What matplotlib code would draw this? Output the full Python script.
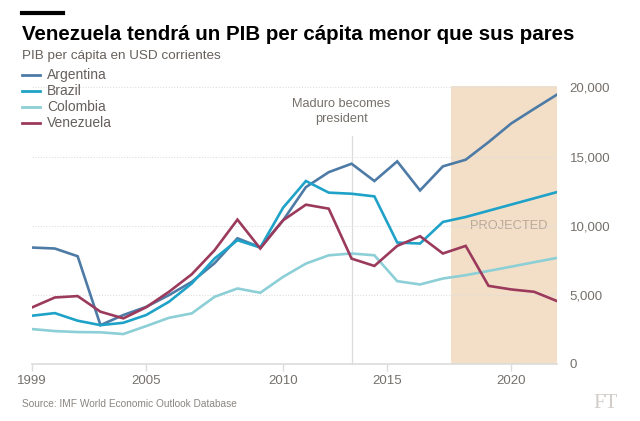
import matplotlib
matplotlib.use("Agg")
import matplotlib.pyplot as plt
import numpy as np

years = list(range(1999, 2023))
argentina = [8420, 8350, 7790, 2810, 3540, 4130, 4980, 5940, 7290, 9090, 8440, 10390,
             12790, 13870, 14480, 13230, 14650, 12550, 14290, 14770, 16040, 17400, 18450, 19480]
brazil = [3490, 3680, 3130, 2810, 2980, 3540, 4500, 5820, 7630, 8950, 8420, 11300,
          13230, 12390, 12310, 12120, 8780, 8710, 10270, 10630, 11080, 11530, 11980, 12430]
colombia = [2525, 2380, 2310, 2290, 2165, 2740, 3340, 3660, 4860, 5460, 5150, 6300,
            7260, 7860, 7990, 7860, 5990, 5750, 6180, 6420, 6730, 7040, 7360, 7670]
venezuela = [4090, 4810, 4910, 3780, 3300, 4100, 5220, 6490, 8230, 10440, 8350, 10390,
             11520, 11230, 7620, 7090, 8540, 9240, 7990, 8540, 5650, 5390, 5220, 4550]

series_names = ["Argentina", "Brazil", "Colombia", "Venezuela"]
x_tick_pos = [1999, 2004, 2010, 2014.55, 2020]
x_tick_labels = ["1999", "2005", "2010", "2015", "2020"]
y_ticks = [0, 5000, 10000, 15000, 20000]
y_tick_labels = ["0", "5,000", "10,000", "15,000", "20,000"]
maduro_year = 2013
projected_start, projected_end = 2017.35, 2022

colors = ["#4d7ba6", "#1fa2c8", "#8dcfd6", "#9b3a5c"]

plt.rcParams['font.family'] = ['Liberation Sans', 'DejaVu Sans']

fig = plt.figure(figsize=(6.4, 4.21), dpi=100)
ax = fig.add_axes([32/640, 1-364/421, (557-32)/640, (364-86)/421])

ax.axvspan(projected_start, projected_end, color="#f3dfc8", lw=0, zorder=0)
ax.text((projected_start + projected_end) / 2 + 0.2, 10000, "PROJECTED", ha="center",
        va="center", fontsize=9.3, color="#bba998", zorder=1)

for yv in y_ticks[1:]:
    ax.axhline(yv, color="#dedede", lw=0.8, ls=(0, (1, 1.5)), zorder=1)

ax.plot([maduro_year, maduro_year], [0, 16500], color="#dcdcdc", lw=0.9, zorder=1,
        clip_on=False)
ax.text(maduro_year - 0.45, 17300, "Maduro becomes\npresident", ha="center", va="bottom",
        fontsize=9.2, color="#75706b", linespacing=1.25)

for vals, c, name in zip([argentina, brazil, colombia, venezuela], colors, series_names):
    ax.plot(years, vals, color=c, lw=1.9, zorder=3, label=name, solid_joinstyle="miter")

ax.set_xlim(1999, 2022)
ax.set_ylim(0, 20100)
for s in ["top", "left", "right"]:
    ax.spines[s].set_visible(False)
ax.spines["bottom"].set_color("#dcdcdc")
ax.spines["bottom"].set_linewidth(1.2)

ax.set_xticks(x_tick_pos)
ax.set_xticklabels(x_tick_labels)
ax.tick_params(axis="x", length=5, color="#dcdcdc", width=1, pad=3, labelsize=9.5,
               labelcolor="#75706b")
ax.yaxis.tick_right()
ax.set_yticks(y_ticks)
ax.set_yticklabels(y_tick_labels)
ax.tick_params(axis="y", length=0, pad=9, labelsize=9.5, labelcolor="#75706b")
for lbl in ax.get_yticklabels():
    lbl.set_horizontalalignment("left")

# Legend
leg_y = [75, 91, 107, 123]
for c, name, yy in zip(colors, series_names, leg_y):
    fy = 1 - yy / 421
    fig.add_artist(plt.Line2D([22/640, 40/640], [fy, fy], color=c, lw=2))
    fig.text(47/640, fy, name, fontsize=10, color="#66605c", va="center", ha="left")

# Title block
fig.add_artist(plt.Line2D([22/640, 63/640], [1-12.5/421, 1-12.5/421], color="black", lw=3))
fig.text(22/640, 1-35/421, "Venezuela tendrá un PIB per cápita menor que sus pares",
         fontsize=14.8, fontweight="bold", color="black", va="center", ha="left")
fig.text(22/640, 1-56/421, "PIB per cápita en USD corrientes", fontsize=9.7,
         color="#66605c", va="center", ha="left")
fig.text(22/640, 1-404/421, "Source: IMF World Economic Outlook Database", fontsize=7.3,
         color="#8a8580", va="center", ha="left")
fig.text(606/640, 1-404/421, "FT", fontsize=15, color="#d2cdc8", va="center", ha="center",
         family=["Liberation Serif", "DejaVu Serif"])

fig.savefig("out.png", dpi=100)
